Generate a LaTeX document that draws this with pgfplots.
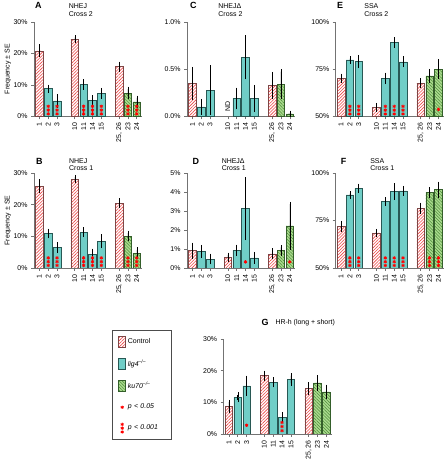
\documentclass[border=0pt]{standalone}
\usepackage{fontspec}
\setmainfont{Liberation Sans}
\usepackage{pgfplots}
\pgfplotsset{compat=1.18}
\usetikzlibrary{patterns.meta}

\definecolor{ctrlred}{RGB}{238,72,72}
\definecolor{ctrlborder}{RGB}{125,70,70}
\definecolor{ligfill}{RGB}{112,206,199}
\definecolor{ligborder}{RGB}{40,88,84}
\definecolor{kufill}{RGB}{170,219,142}
\definecolor{kuline}{RGB}{78,140,58}
\definecolor{kuborder}{RGB}{52,95,42}
\definecolor{axgray}{RGB}{115,115,115}

\pgfplotsset{
 errb/.style={error bars/.cd, y dir=both, y explicit, error bar style={black, line width=0.5pt}, error mark options={black, mark size=2.3pt, line width=0.5pt}},
 ctrl/.style={ybar, bar width=7.6pt, draw=ctrlborder, line width=0.5pt, fill=white, postaction={pattern={Lines[angle=45,distance=2.2pt,line width=0.6pt]}, pattern color=ctrlred}, errb},
 lig/.style={ybar, bar width=7.6pt, draw=ligborder, line width=0.5pt, fill=ligfill, errb},
 ku/.style={ybar, bar width=7.6pt, draw=kuborder, line width=0.5pt, fill=kufill, postaction={pattern={Lines[angle=-45,distance=2.2pt,line width=0.5pt]}, pattern color=kuline}, errb},
 stars/.style={only marks, mark=asterisk, mark size=1.7pt, color=red, mark options={line width=0.8pt}},
 panel/.style={scale only axis, width=108.6pt, height=95pt, anchor=south west,
   axis x line=bottom, axis y line=left,
   axis line style={draw=axgray, line width=0.6pt, -},
   xmin=-0.6, xmax=11.6, enlargelimits=false,
   xtick={0,1,2,4,5,6,7,9,10,11},
   xticklabels={1,2,3,10,11,14,15,{25, 26},23,24},
   xticklabel style={rotate=90, anchor=east, font=\fontsize{7}{8.4}\selectfont},
   yticklabel style={font=\fontsize{7}{8.4}\selectfont},
   tick align=outside, major tick length=3pt,
   tick style={draw=axgray, line width=0.6pt},
   /pgf/number format/assume math mode=true},
}

\begin{document}
\begin{tikzpicture}[font=\fontsize{7}{8.4}\selectfont]
\path (0pt,0pt) rectangle (446pt,-463pt);

% ---------- A ----------
\begin{axis}[panel, at={(34.2pt,-117pt)}, ymin=0, ymax=30, ytick={0,10,20,30}, yticklabels={0\%,10\%,20\%,30\%}]
\addplot[ctrl] coordinates {(0,20.8) +- (0,1.3) (4,24.5) +- (0,0.6) (9,15.8) +- (0,0.9)};
\addplot[lig] coordinates {(1,8.8) +- (0,0.6) (2,4.9) +- (0,1.4) (5,10.1) +- (0,0.9) (6,5.1) +- (0,0.9) (7,7.3) +- (0,1.0)};
\addplot[ku] coordinates {(10,7.4) +- (0,1.3) (11,4.6) +- (0,1.3)};
\addplot[stars] coordinates {(1,0.8)(1,2.0)(1,3.2)(2,0.8)(2,2.0)(2,3.2)(5,0.8)(5,2.0)(5,3.2)(6,0.8)(6,2.0)(6,3.2)(7,0.8)(7,2.0)(7,3.2)(10,0.8)(10,2.0)(10,3.2)(11,0.8)(11,2.0)(11,3.2)};
\end{axis}

% ---------- B ----------
\begin{axis}[panel, at={(34.2pt,-269.3pt)}, height=95.3pt, ymin=0, ymax=30, ytick={0,10,20,30}, yticklabels={0\%,10\%,20\%,30\%}]
\addplot[ctrl] coordinates {(0,25.8) +- (0,1.5) (4,28.1) +- (0,0.6) (9,20.5) +- (0,0.85)};
\addplot[lig] coordinates {(1,10.9) +- (0,0.85) (2,6.4) +- (0,0.95) (5,11.3) +- (0,0.85) (6,4.2) +- (0,1.2) (7,8.5) +- (0,1.5)};
\addplot[ku] coordinates {(10,10.1) +- (0,0.95) (11,4.7) +- (0,1.05)};
\addplot[stars] coordinates {(1,0.8)(1,2.0)(1,3.2)(2,0.8)(2,2.0)(2,3.2)(5,0.8)(5,2.0)(5,3.2)(6,0.8)(6,2.0)(6,3.2)(7,0.8)(7,2.0)(7,3.2)(10,0.8)(10,2.0)(10,3.2)(11,0.8)(11,2.0)(11,3.2)};
\end{axis}

% ---------- C ----------
\begin{axis}[panel, at={(188pt,-117pt)}, ymin=0, ymax=1, ytick={0,0.5,1}, yticklabels={0.0\%,0.5\%,1.0\%}]
\addplot[ctrl] coordinates {(0,0.35) +- (0,0.15) (9,0.327) +- (0,0.12)};
\addplot[lig] coordinates {(1,0.102) +- (0,0.06) (2,0.278) +- (0,0.24) (5,0.19) +- (0,0.09) (6,0.627) +- (0,0.21) (7,0.19) +- (0,0.12)};
\addplot[ku] coordinates {(10,0.34) +- (0,0.135) (11,0.028) +- (0,0.01)};
\node[rotate=90, anchor=west, inner sep=0pt] at (axis cs:4,0.05) {ND};
\end{axis}

% ---------- D ----------
\begin{axis}[panel, at={(188pt,-269.3pt)}, height=95.3pt, ymin=0, ymax=5, ytick={0,1,2,3,4,5}, yticklabels={0\%,1\%,2\%,3\%,4\%,5\%}]
\addplot[ctrl] coordinates {(0,0.91) +- (0,0.3) (4,0.56) +- (0,0.13) (9,0.74) +- (0,0.17)};
\addplot[lig] coordinates {(1,0.88) +- (0,0.22) (2,0.47) +- (0,0.16) (5,0.93) +- (0,0.18) (6,3.13) +- (0,1.54) (7,0.53) +- (0,0.2)};
\addplot[ku] coordinates {(10,0.91) +- (0,0.17) (11,2.22) +- (0,1.15)};
\addplot[stars] coordinates {(6,0.32)(11,0.32)};
\end{axis}

% ---------- E ----------
\begin{axis}[panel, at={(337.4pt,-117pt)}, ymin=50, ymax=100, ytick={50,75,100}, yticklabels={50\%,75\%,100\%}]
\addplot[ctrl] coordinates {(0,70.2) +- (0,1.2) (4,54.75) +- (0,1.2) (9,67.6) +- (0,1.4)};
\addplot[lig] coordinates {(1,79.9) +- (0,0.7) (2,79.0) +- (0,2.3) (5,70.1) +- (0,1.8) (6,89.1) +- (0,1.6) (7,78.9) +- (0,1.6)};
\addplot[ku] coordinates {(10,71.5) +- (0,2.5) (11,75.0) +- (0,3.9)};
\addplot[stars] coordinates {(1,51.3)(1,53.3)(1,55.3)(2,51.3)(2,53.3)(2,55.3)(5,51.3)(5,53.3)(5,55.3)(6,51.3)(6,53.3)(6,55.3)(7,51.3)(7,53.3)(7,55.3)(11,53.7)};
\end{axis}

% ---------- F ----------
\begin{axis}[panel, at={(337.4pt,-269.3pt)}, height=95.3pt, ymin=50, ymax=100, ytick={50,75,100}, yticklabels={50\%,75\%,100\%}]
\addplot[ctrl] coordinates {(0,72.0) +- (0,1.6) (4,68.5) +- (0,0.9) (9,81.5) +- (0,1.7)};
\addplot[lig] coordinates {(1,88.5) +- (0,0.7) (2,92.0) +- (0,1.2) (5,85.0) +- (0,1.0) (6,90.4) +- (0,3.1) (7,90.7) +- (0,1.4)};
\addplot[ku] coordinates {(10,89.7) +- (0,1.7) (11,91.3) +- (0,3.0)};
\addplot[stars] coordinates {(1,51.3)(1,53.3)(1,55.3)(2,51.3)(2,53.3)(2,55.3)(5,51.3)(5,53.3)(5,55.3)(6,51.3)(6,53.3)(6,55.3)(7,51.3)(7,53.3)(7,55.3)(10,51.3)(10,53.3)(10,55.3)(11,51.3)(11,53.3)(11,55.3)};
\end{axis}

% ---------- G ----------
\begin{axis}[panel, at={(224.7pt,-436pt)}, height=95.3pt, ymin=0, ymax=30, ytick={0,10,20,30}, yticklabels={0\%,10\%,20\%,30\%},
  legend cell align=left,
  legend style={at={(-1.031,1.094)}, anchor=north west, draw=black!70, line width=0.6pt, fill=white,
    inner xsep=6pt, inner ysep=6pt, row sep=10pt, font=\fontsize{7}{8.4}\selectfont,
    nodes={text width=36pt}}]
\addlegendimage{legend image code/.code={\draw[draw=ctrlborder, line width=0.5pt, fill=white, postaction={pattern={Lines[angle=45,distance=2.2pt,line width=0.6pt]}, pattern color=ctrlred}] (0pt,-5.5pt) rectangle (7pt,5.5pt);}}
\addlegendentry{Control}
\addlegendimage{legend image code/.code={\draw[draw=ligborder, line width=0.5pt, fill=ligfill] (0pt,-5.5pt) rectangle (7pt,5.5pt);}}
\addlegendentry{\textit{lig4}\textsuperscript{\textit{--/--}}}
\addlegendimage{legend image code/.code={\draw[draw=kuborder, line width=0.5pt, fill=kufill, postaction={pattern={Lines[angle=-45,distance=2.2pt,line width=0.5pt]}, pattern color=kuline}] (0pt,-5.5pt) rectangle (7pt,5.5pt);}}
\addlegendentry{\textit{ku70}\textsuperscript{\textit{--/--}}}
\addlegendimage{legend image code/.code={\path[draw=none, fill=none] (0pt,-5.5pt) rectangle (7pt,5.5pt); \path[draw=red, line width=0.8pt] plot[mark=asterisk, mark size=1.7pt, only marks, mark options={draw=red}] coordinates {(3.5pt,0pt)};}}
\addlegendentry{\textit{p < 0.05}}
\addlegendimage{legend image code/.code={\path[draw=none, fill=none] (0pt,-5.5pt) rectangle (7pt,5.5pt); \path[draw=red, line width=0.8pt] plot[mark=asterisk, mark size=1.7pt, only marks, mark options={draw=red}] coordinates {(3.5pt,-3.8pt)(3.5pt,0pt)(3.5pt,3.8pt)};}}
\addlegendentry{\textit{p < 0.001}}
\addplot[ctrl] coordinates {(0,8.6) +- (0,1.4) (4,18.4) +- (0,0.85) (9,14.3) +- (0,1.35)};
\addplot[lig] coordinates {(1,11.5) +- (0,0.85) (2,15.2) +- (0,2.45) (5,16.3) +- (0,0.85) (6,5.1) +- (0,1.1) (7,17.2) +- (0,1.25)};
\addplot[ku] coordinates {(10,16.1) +- (0,1.7) (11,13.3) +- (0,1.55)};
\addplot[stars] coordinates {(2,2.7)(6,1.0)(6,2.3)(6,3.6)};
\end{axis}

% ---------- titles ----------
\begin{scope}[every node/.style={inner sep=0pt, anchor=base west}]
\node[font=\fontsize{9}{10}\selectfont\bfseries] at (35pt,-8.5pt) {A};
\node at (69pt,-8.7pt) {NHEJ};
\node at (69pt,-16.3pt) {Cross 2};
\node[font=\fontsize{9}{10}\selectfont\bfseries] at (191pt,-8.5pt) {C};
\node at (219.3pt,-8.7pt) {NHEJΔ};
\node at (219.3pt,-16.3pt) {Cross 2};
\node[font=\fontsize{9}{10}\selectfont\bfseries] at (338.5pt,-8.5pt) {E};
\node at (366pt,-8.7pt) {SSA};
\node at (366pt,-16.3pt) {Cross 2};
\node[font=\fontsize{9}{10}\selectfont\bfseries] at (36pt,-165pt) {B};
\node at (69.3pt,-164.3pt) {NHEJ};
\node at (69.3pt,-171.7pt) {Cross 1};
\node[font=\fontsize{9}{10}\selectfont\bfseries] at (193.3pt,-165pt) {D};
\node at (222.7pt,-164.3pt) {NHEJΔ};
\node at (222.7pt,-171.7pt) {Cross 1};
\node[font=\fontsize{9}{10}\selectfont\bfseries] at (342.5pt,-165pt) {F};
\node at (372pt,-164.3pt) {SSA};
\node at (372pt,-171.7pt) {Cross 1};
\node[font=\fontsize{9}{10}\selectfont\bfseries] at (262.7pt,-327pt) {G};
\node at (276.7pt,-326pt) {HR-h (long + short)};
\end{scope}
\node[rotate=90, inner sep=0pt] at (8pt,-69.5pt) {Frequency ± SE};
\node[rotate=90, inner sep=0pt] at (8pt,-221.6pt) {Frequency ± SE};
\end{tikzpicture}
\end{document}
